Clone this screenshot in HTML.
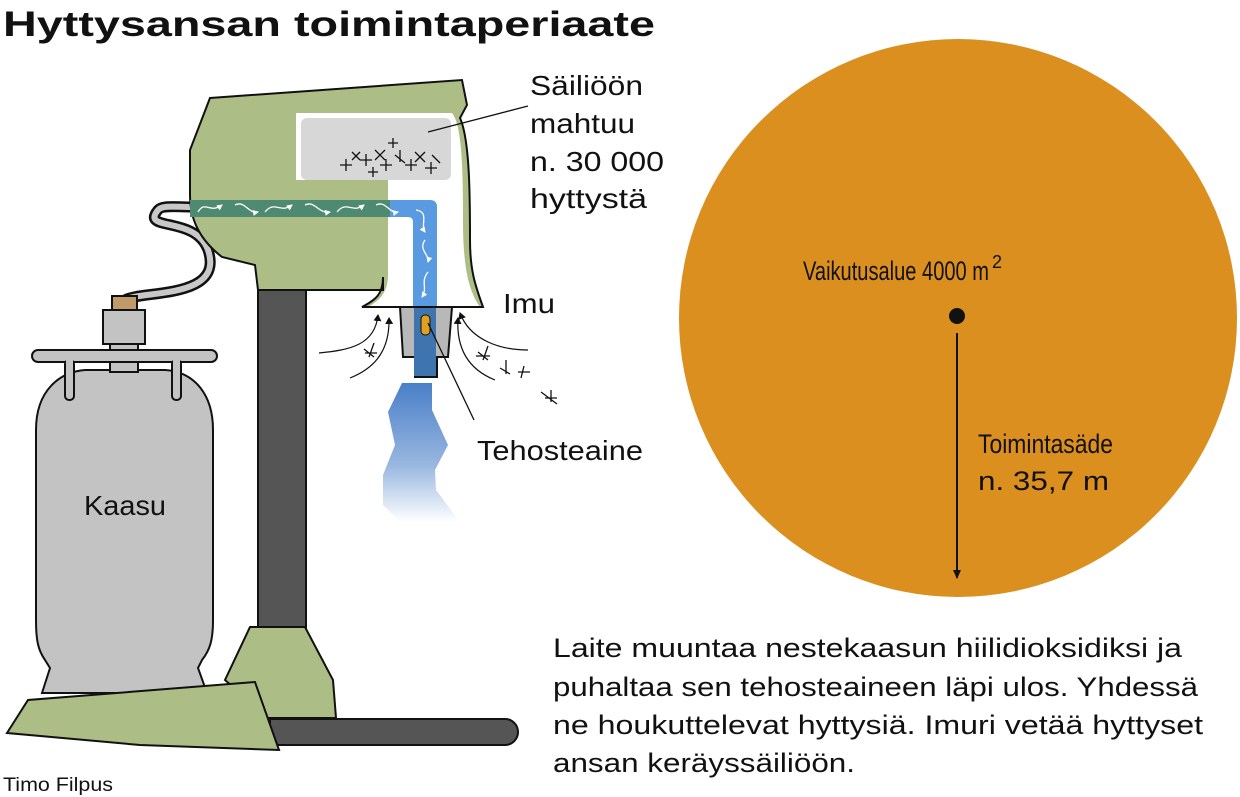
<!DOCTYPE html>
<html><head><meta charset="utf-8"><style>
html,body{margin:0;padding:0;background:#fff;width:1240px;height:797px;overflow:hidden}
svg{display:block}
text{font-family:"Liberation Sans",sans-serif;fill:#111}
</style></head><body>
<svg width="1240" height="797" viewBox="0 0 1240 797" xmlns="http://www.w3.org/2000/svg">
<defs>
<linearGradient id="smoke" x1="0" y1="0" x2="0" y2="1">
<stop offset="0" stop-color="#4a7fc8"/><stop offset="0.6" stop-color="#9ab8e0"/><stop offset="1" stop-color="#ffffff"/>
</linearGradient>
<marker id="ah" markerWidth="10" markerHeight="10" refX="8" refY="5" orient="auto" markerUnits="userSpaceOnUse"><path d="M0,1 L9,5 L0,9 Z" fill="#111"/></marker>
<marker id="sa" markerWidth="8" markerHeight="8" refX="6" refY="4" orient="auto" markerUnits="userSpaceOnUse"><path d="M0,0 L7,4 L0,8 Z" fill="#111"/></marker>
<marker id="wa" markerWidth="6" markerHeight="6" refX="5" refY="3" orient="auto" markerUnits="userSpaceOnUse"><path d="M0,0 L6,3 L0,6 Z" fill="#fff"/></marker>
</defs>

<text x="3" y="36" font-size="35" font-weight="bold" textLength="652" lengthAdjust="spacingAndGlyphs">Hyttysansan toimintaperiaate</text>

<circle cx="958" cy="318" r="279" fill="#db8f1f"/>
<circle cx="957" cy="316" r="8" fill="#111"/>
<line x1="957" y1="333" x2="957" y2="578" stroke="#111" stroke-width="2" marker-end="url(#ah)"/>
<text x="803" y="280" font-size="27" textLength="186" lengthAdjust="spacingAndGlyphs">Vaikutusalue 4000 m</text>
<text x="992" y="268" font-size="18">2</text>
<text x="978" y="453" font-size="27" textLength="135" lengthAdjust="spacingAndGlyphs">Toimintasäde</text>
<text x="978" y="490" font-size="27" textLength="131" lengthAdjust="spacingAndGlyphs">n. 35,7 m</text>

<path d="M402,383 L432,383 L432,410 L448,445 L435,470 L436,490 L460,522 L400,522 L383,505 L383,475 L395,445 L388,412 Z" fill="url(#smoke)"/>

<rect x="258" y="285" width="48" height="345" fill="#555" stroke="#111" stroke-width="2"/>
<path d="M270,719 L505,719 A13,13 0 0 1 505,745 L270,745 Z" fill="#555" stroke="#111" stroke-width="2"/>
<path d="M250,627 L305,627 L333,680 L336,718 L268,718 L225,680 Z" fill="#acbd86" stroke="#111" stroke-width="2"/>

<path d="M125,300 C140,290 225,300 208,250 C195,215 140,232 158,210 C162,205 175,207 192,207" fill="none" stroke="#111" stroke-width="11"/>
<path d="M125,300 C140,290 225,300 208,250 C195,215 140,232 158,210 C162,205 175,207 192,207" fill="none" stroke="#c8c8c8" stroke-width="6"/>

<path d="M42,693 L50,668 L45,660 C38,650 36,640 36,620 L36,430 C36,390 60,372 85,370 L165,370 C195,372 213,395 213,430 L213,620 C213,640 210,650 202,660 L198,668 L207,693 Z" fill="#c3c3c3" stroke="#111" stroke-width="2"/>
<rect x="103" y="310" width="42" height="34" fill="#c3c3c3" stroke="#111" stroke-width="2"/>
<rect x="110" y="344" width="28" height="28" fill="#c3c3c3" stroke="#111" stroke-width="2"/>
<rect x="112" y="296" width="25" height="14" fill="#c09a68" stroke="#111" stroke-width="2"/>
<rect x="32" y="350" width="185" height="12" rx="6" fill="#c3c3c3" stroke="#111" stroke-width="2"/>
<rect x="65" y="360" width="9" height="40" rx="4" fill="#c3c3c3" stroke="#111" stroke-width="2"/>
<rect x="172" y="360" width="9" height="40" rx="4" fill="#c3c3c3" stroke="#111" stroke-width="2"/>
<rect x="66" y="356" width="7" height="8" fill="#c3c3c3"/>
<rect x="173" y="356" width="7" height="8" fill="#c3c3c3"/>
<text x="125" y="515" font-size="28" text-anchor="middle" textLength="82" lengthAdjust="spacingAndGlyphs">Kaasu</text>

<path d="M7,733 L28,700 L255,682 L279,750 L140,745 Z" fill="#acbd86" stroke="#111" stroke-width="2"/>

<path d="M210,98 L462,80 L467,105 L460,118 C470,140 470,200 470,240 C470,270 475,285 483,307 L362,307 C375,300 383,295 383,277 L383,290 L258,290 L255,265 L222,257 C200,240 190,220 190,195 L190,150 Z" fill="#acbd86" stroke="#111" stroke-width="2"/>
<path d="M388,186 L296,186 L296,113 L452,113 C462,125 463,170 463,220 C463,265 468,290 480,307 L368,307 C380,300 388,292 388,275 Z" fill="#fff"/>
<rect x="301" y="118" width="150" height="62" rx="6" fill="#d7d7d7"/>
<rect x="296" y="180" width="92" height="20" fill="#acbd86"/>
<line x1="362" y1="307" x2="483" y2="307" stroke="#111" stroke-width="2"/>
<rect x="190" y="200" width="200" height="17" fill="#4e8a72"/>
<path d="M390,200 L430,200 Q437,200 437,207 L437,307 L413,307 L413,222 Q413,217 408,217 L390,217 Z" fill="#5a9ae0"/>
<g fill="none" stroke="#fff" stroke-width="1.3" marker-end="url(#wa)">
<path d="M198,212 C205,200 210,214 222,205"/><path d="M235,205 C245,200 248,214 258,212"/>
<path d="M265,212 C275,200 280,214 292,205"/><path d="M305,205 C315,200 318,214 330,212"/>
<path d="M337,212 C347,200 352,214 364,205"/><path d="M376,205 C386,200 389,214 398,212"/>
<path d="M416,210 C430,212 420,225 425,232"/><path d="M425,240 C418,250 430,255 428,262"/>
<path d="M428,272 C420,282 428,288 422,297"/>
</g>
<path d="M400,307 L452,307 L448,357 L437,357 L437,377 L415,377 L415,357 L403,357 Z" fill="#b8b8b8" stroke="#111" stroke-width="2"/>
<rect x="414" y="308" width="22" height="68" fill="#3f75ae"/>
<rect x="421" y="315" width="9" height="20" rx="4" fill="#e0a020" stroke="#111" stroke-width="1"/>

<g stroke="#111" stroke-width="1.3" fill="none">
<path d="M340,165 h12 M346,159 v12 M360,160 h12 M366,154 v12 M375,150 l10,10 M385,150 l-10,10 M380,165 h12 M386,159 v12 M395,155 l10,8 M400,150 v12 M405,165 h12 M411,159 v12 M415,152 l10,10 M425,152 l-10,10 M425,168 h12 M431,162 v12 M432,155 l8,8 M388,143 h10 M393,138 v10 M352,152 l8,8 M360,152 l-8,8 M368,172 h10 M373,167 v10"/>
</g>
<g stroke="#111" stroke-width="1.3" fill="none">
<path d="M364,349 l10,8 M374,343 l-5,14 M365,353 h12 M478,352 l10,8 M488,346 l-5,14 M476,356 h14 M500,368 l10,6 M506,360 v14 M518,372 h12 M524,366 l-3,12 M545,398 h12 M551,390 v12 M541,392 l16,12"/>
</g>
<g fill="none" stroke="#111" stroke-width="1.2" marker-end="url(#sa)">
<path d="M319,353 C350,350 375,345 378,315"/>
<path d="M350,378 C370,370 390,355 389,318"/>
<path d="M528,350 C500,350 470,340 460,313"/>
<path d="M495,380 C470,370 456,350 458,318"/>
</g>

<line x1="428" y1="132" x2="528" y2="106" stroke="#111" stroke-width="1.3"/>
<line x1="428" y1="323" x2="474" y2="420" stroke="#111" stroke-width="1.3"/>

<g font-size="28">
<text x="530" y="95" textLength="113" lengthAdjust="spacingAndGlyphs">Säiliöön</text>
<text x="530" y="133" textLength="105" lengthAdjust="spacingAndGlyphs">mahtuu</text>
<text x="530" y="171" textLength="134" lengthAdjust="spacingAndGlyphs">n. 30 000</text>
<text x="530" y="208" textLength="117" lengthAdjust="spacingAndGlyphs">hyttystä</text>
<text x="503" y="313" textLength="52" lengthAdjust="spacingAndGlyphs">Imu</text>
<text x="477" y="460" textLength="166" lengthAdjust="spacingAndGlyphs">Tehosteaine</text>
</g>
<g font-size="27">
<text x="553" y="657" textLength="629" lengthAdjust="spacingAndGlyphs">Laite muuntaa nestekaasun hiilidioksidiksi ja</text>
<text x="553" y="696" textLength="645" lengthAdjust="spacingAndGlyphs">puhaltaa sen tehosteaineen läpi ulos. Yhdessä</text>
<text x="553" y="734" textLength="650" lengthAdjust="spacingAndGlyphs">ne houkuttelevat hyttysiä. Imuri vetää hyttyset</text>
<text x="553" y="772" textLength="302" lengthAdjust="spacingAndGlyphs">ansan keräyssäiliöön.</text>
</g>
<text x="3" y="791" font-size="19" fill="#333" textLength="110" lengthAdjust="spacingAndGlyphs">Timo Filpus</text>
</svg>
</body></html>
